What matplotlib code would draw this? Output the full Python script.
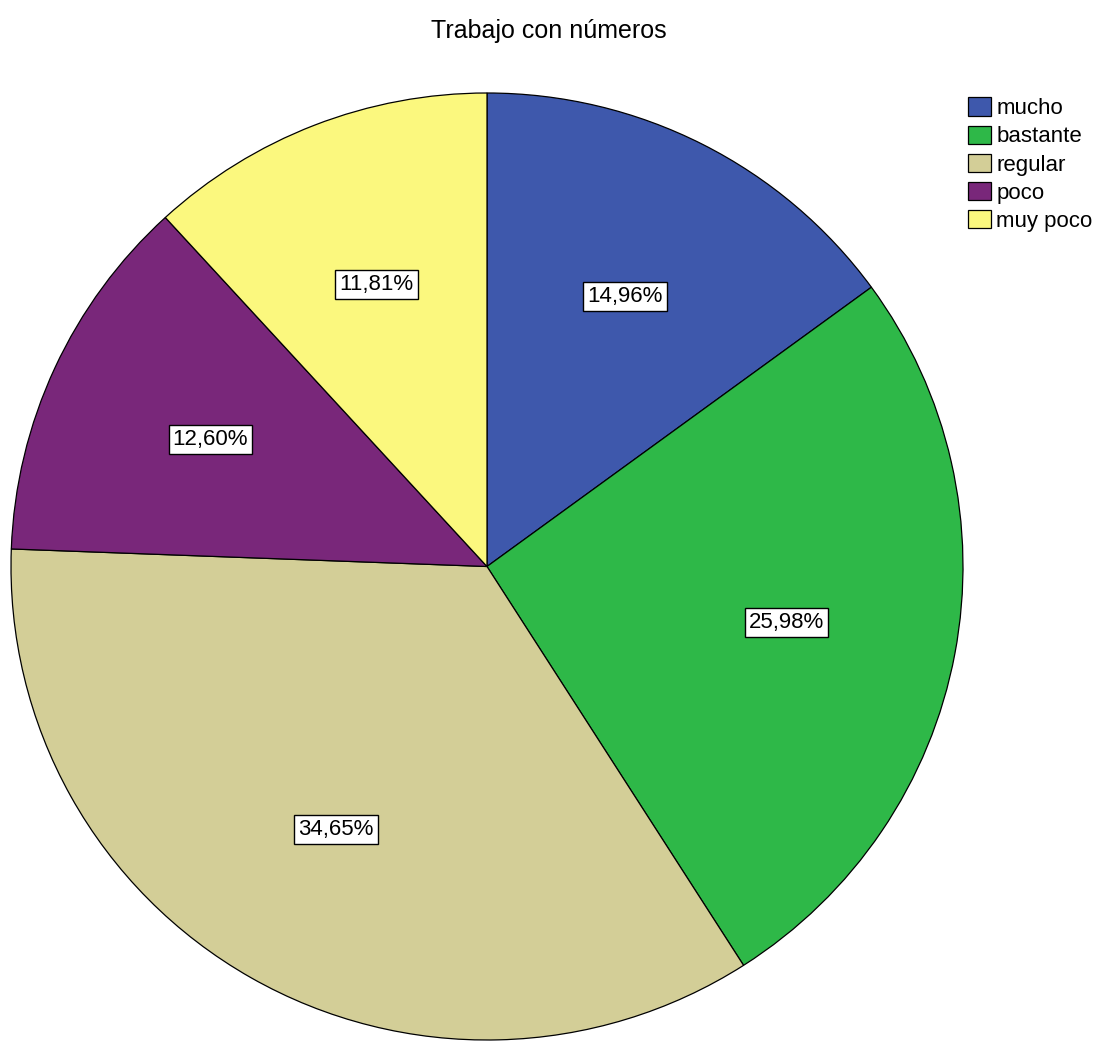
import matplotlib
matplotlib.use('Agg')
import matplotlib.pyplot as plt

# datos
categorias = ['mucho', 'bastante', 'regular', 'poco', 'muy poco']
porcentajes = [14.96, 25.98, 34.65, 12.60, 11.81]
colores = ['#3E58AC', '#2EB848', '#D3CE97', '#79277A', '#FBF87E']
titulo = 'Trabajo con números'

plt.rcParams['font.family'] = ['Liberation Sans', 'DejaVu Sans']

W, H = 1097, 1041
fig = plt.figure(figsize=(W / 100, H / 100), dpi=100)

# ejes del pastel (pixeles: x 11-963, y 93-1040)
ax = fig.add_axes([11 / W, 1 / H, 952 / W, 947 / H])

wedges, textos, autotextos = ax.pie(
    porcentajes, colors=colores, startangle=90, counterclock=False,
    radius=1.0, pctdistance=0.64,
    autopct=lambda p: ('%.2f%%' % p).replace('.', ','),
    wedgeprops=dict(edgecolor='black', linewidth=0.9),
    textprops=dict(fontsize=16, color='black'))

# etiquetas con recuadro blanco
for t in autotextos:
    t.set_bbox(dict(facecolor='white', edgecolor='black', linewidth=1.0, pad=0.18, boxstyle='square'))

ax.set_xlim(-1.0, 1.0)
ax.set_ylim(-1.0, 1.0)
ax.set_aspect('auto')
ax.axis('off')

fig.text(549 / W, 1 - 31 / H, titulo, ha='center', va='center', fontsize=18)

fig.legend(wedges, categorias, loc='upper left', bbox_to_anchor=(964 / W, 1 - 93 / H),
           frameon=False, fontsize=16, handlelength=1.0, handleheight=0.9,
           handletextpad=0.25, labelspacing=0.28, borderpad=0.2, borderaxespad=0)

fig.savefig('out.png', dpi=100)
